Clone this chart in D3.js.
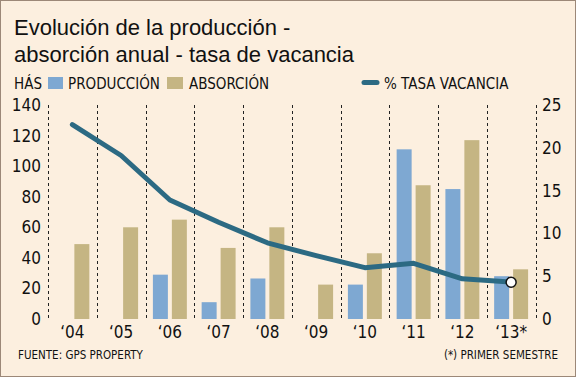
<!DOCTYPE html>
<html>
<head>
<meta charset="utf-8">
<script src="https://cdn.jsdelivr.net/npm/d3@7"></script>
<style>
  body { margin: 0; background: #fff; }
  svg text { font-family: "Liberation Sans Narrow", "DejaVu Sans Condensed", "Liberation Sans", sans-serif; fill: #111; }
  .title { font-family: "Liberation Sans", sans-serif; font-size: 22px; }
</style>
</head>
<body>
<svg width="577" height="379"></svg>
<script>
var years = ["\u201804", "\u201805", "\u201806", "\u201807", "\u201808", "\u201809", "\u201810", "\u201811", "\u201812", "\u201813*"];
var produccion = [0, 0, 29, 11, 26.5, 0, 22.5, 111, 85, 28];
var absorcion = [49, 60, 65, 46.5, 60, 22.5, 43, 87.5, 117, 32.5];
var vacancia = [22.7, 19.1, 13.9, 11.3, 8.9, 7.4, 6.0, 6.5, 4.7, 4.3];
var leftTicks = [0, 20, 40, 60, 80, 100, 120, 140];
var rightTicks = [0, 5, 10, 15, 20, 25];

var svg = d3.select("svg"),
    width = +svg.attr("width"),
    height = +svg.attr("height");

svg.append("rect")
    .attr("x", 0.5).attr("y", 0.5)
    .attr("width", width - 2).attr("height", height - 3)
    .attr("fill", "#fcefdf")
    .attr("stroke", "#9c8878");

var x = d3.scaleBand()
    .domain(years)
    .range([48, 535.5]);

var inner = d3.scaleBand()
    .domain(["p", "a"])
    .range([0, x.bandwidth()])
    .paddingInner(0.21)
    .paddingOuter(0.39);

var yL = d3.scaleLinear().domain([0, 140]).range([319, 105]);
var yR = d3.scaleLinear().domain([0, 25]).range([319, 105]);

// title
svg.append("text").attr("class", "title").attr("x", 14).attr("y", 35)
    .text("Evolución de la producción -");
svg.append("text").attr("class", "title").attr("x", 14).attr("y", 62)
    .text("absorción anual - tasa de vacancia");

// legend
var lg = svg.append("g").attr("font-size", 15);
lg.append("text").attr("x", 14).attr("y", 89).text("HÁS");
lg.append("rect").attr("x", 48).attr("y", 77).attr("width", 15).attr("height", 12).attr("fill", "#7ea8d2");
lg.append("text").attr("x", 68).attr("y", 89).text("PRODUCCIÓN");
lg.append("rect").attr("x", 167).attr("y", 77).attr("width", 16).attr("height", 12).attr("fill", "#c5b583");
lg.append("text").attr("x", 189).attr("y", 89).text("ABSORCIÓN");
lg.append("line").attr("x1", 364).attr("x2", 377).attr("y1", 82.5).attr("y2", 82.5)
    .attr("stroke", "#2c6a83").attr("stroke-width", 5).attr("stroke-linecap", "round");
lg.append("text").attr("x", 384).attr("y", 89).text("% TASA VACANCIA");

// dashed separators
var edges = years.map(function(d) { return x(d); }).concat([x.range()[1]]);
svg.append("g").selectAll("line")
  .data(edges)
  .enter().append("line")
    .attr("x1", function(d) { return Math.round(d) + 0.5; })
    .attr("x2", function(d) { return Math.round(d) + 0.5; })
    .attr("y1", yL(140)).attr("y2", yL(0))
    .attr("stroke", "#222")
    .attr("stroke-width", 1)
    .attr("stroke-dasharray", "3,3");

// bars
var g = svg.append("g");
g.selectAll("rect.prod")
  .data(produccion)
  .enter().append("rect")
    .attr("class", "prod")
    .attr("x", function(d, i) { return x(years[i]) + inner("p"); })
    .attr("y", function(d) { return yL(d); })
    .attr("width", inner.bandwidth())
    .attr("height", function(d) { return yL(0) - yL(d); })
    .attr("fill", "#7ea8d2");

g.selectAll("rect.abs")
  .data(absorcion)
  .enter().append("rect")
    .attr("class", "abs")
    .attr("x", function(d, i) { return x(years[i]) + inner("a"); })
    .attr("y", function(d) { return yL(d); })
    .attr("width", inner.bandwidth())
    .attr("height", function(d) { return yL(0) - yL(d); })
    .attr("fill", "#c5b583");

// vacancy line
var line = d3.line()
    .x(function(d, i) { return x(years[i]) + x.bandwidth() / 2; })
    .y(function(d) { return yR(d); });

svg.append("path")
    .datum(vacancia)
    .attr("d", line)
    .attr("fill", "none")
    .attr("stroke", "#2c6a83")
    .attr("stroke-width", 5)
    .attr("stroke-linejoin", "round")
    .attr("stroke-linecap", "round");

var last = vacancia.length - 1;
svg.append("circle")
    .attr("cx", x(years[last]) + x.bandwidth() / 2)
    .attr("cy", yR(vacancia[last]))
    .attr("r", 5)
    .attr("fill", "#fff")
    .attr("stroke", "#111")
    .attr("stroke-width", 1.5);

// axes
var leftAxis = d3.axisLeft(yL).tickValues(leftTicks).tickSize(0).tickPadding(0);
svg.append("g")
    .attr("transform", "translate(41,0)")
    .call(leftAxis)
    .call(function(s) { s.select(".domain").remove(); })
    .selectAll("text")
      .attr("font-size", 17)
      .attr("font-family", null)
      .attr("fill", "#111");

var rightAxis = d3.axisRight(yR).tickValues(rightTicks).tickSize(0).tickPadding(0);
svg.append("g")
    .attr("transform", "translate(542,0)")
    .call(rightAxis)
    .call(function(s) { s.select(".domain").remove(); })
    .selectAll("text")
      .attr("font-size", 17)
      .attr("font-family", null)
      .attr("fill", "#111");

var bottomAxis = d3.axisBottom(x).tickSize(0).tickPadding(0);
svg.append("g")
    .attr("transform", "translate(0,326)")
    .call(bottomAxis)
    .call(function(s) { s.select(".domain").remove(); })
    .selectAll("text")
      .attr("font-size", 17)
      .attr("font-family", null)
      .attr("fill", "#111");

// footer
svg.append("text").attr("x", 18).attr("y", 359).attr("font-size", 11.5)
    .text("FUENTE: GPS PROPERTY");
svg.append("text").attr("x", 558).attr("y", 359).attr("font-size", 11.5)
    .attr("text-anchor", "end")
    .text("(*) PRIMER SEMESTRE");
</script>
</body>
</html>
